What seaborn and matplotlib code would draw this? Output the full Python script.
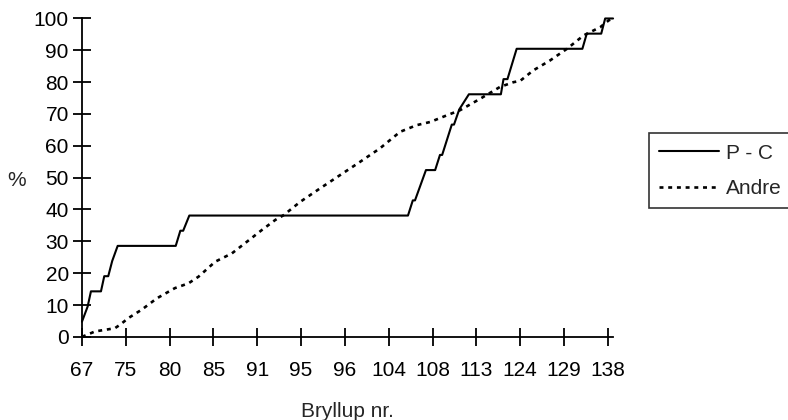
import numpy as np
import pandas as pd
import seaborn as sns
import matplotlib.pyplot as plt

# etiketter paa x-aksen (bryllup nr.)
bryllup_labels = ['67', '75', '80', '85', '91', '95', '96', '104', '108', '113', '124', '129', '138']

# P - C : kumulativ procent (position langs kategoriaksen)
pc_x = [0.0, 0.13, 0.205, 0.434, 0.509, 0.60, 0.69, 0.815, 2.14, 2.245, 2.31, 2.45,
        7.44, 7.55, 7.60, 7.85, 8.06, 8.17, 8.22, 8.44, 8.49, 8.61, 8.83, 9.56,
        9.62, 9.71, 9.92, 11.42, 11.52, 11.85, 11.94, 12.12]
pc_y = [4.76, 9.52, 14.29, 14.29, 19.05, 19.05, 23.81, 28.57, 28.57, 33.33, 33.33, 38.10,
        38.10, 42.86, 42.86, 52.38, 52.38, 57.14, 57.14, 66.67, 66.67, 71.43, 76.19, 76.19,
        80.95, 80.95, 90.48, 90.48, 95.24, 95.24, 100.0, 100.0]

# Andre
andre_x = [0.0, 0.30, 0.75, 0.87, 1.06, 1.36, 1.71, 2.12, 2.43, 2.66, 3.04, 3.42, 3.72,
           4.10, 4.41, 4.60, 4.98, 5.43, 5.89, 6.35, 6.80, 7.26, 7.64, 7.95, 8.33, 8.63,
           9.09, 9.54, 9.85, 10.0, 10.30, 10.68, 11.07, 11.45, 11.83, 12.02, 12.12]
andre_y = [0.0, 1.7, 2.7, 3.8, 5.9, 8.5, 12.1, 15.3, 16.8, 18.9, 23.6, 26.2, 29.4,
           33.5, 36.7, 38.2, 42.4, 46.6, 50.8, 55.0, 59.2, 64.4, 66.5, 67.5, 69.6, 71.2,
           74.8, 78.5, 80.0, 80.4, 83.7, 86.8, 90.5, 94.7, 97.3, 99.4, 100.0]

df = pd.concat([
    pd.DataFrame({'pos': pc_x, 'pct': pc_y, 'serie': 'P - C'}),
    pd.DataFrame({'pos': andre_x, 'pct': andre_y, 'serie': 'Andre'}),
])

sns.set_style('white')
plt.rcParams['font.family'] = ['Liberation Sans', 'DejaVu Sans']

fig = plt.figure(figsize=(7.88, 4.2), dpi=100)
ax = fig.add_axes([0.104, 0.198, 0.674, 0.758])

sns.lineplot(data=df, x='pos', y='pct', hue='serie', style='serie',
             hue_order=['P - C', 'Andre'], style_order=['P - C', 'Andre'],
             palette={'P - C': 'black', 'Andre': 'black'},
             dashes={'P - C': '', 'Andre': (1.5, 1.8)},
             estimator=None, sort=False, linewidth=1.5, legend=False, ax=ax)
ax.lines[1].set_linewidth(1.9)

ax.set_xlim(0, 12.12)
ax.set_ylim(0, 100)
ax.set_xticks(range(13))
ax.set_xticklabels(bryllup_labels)
ax.set_yticks(range(0, 101, 10))

for s in ['top', 'right']:
    ax.spines[s].set_visible(False)
for s in ['left', 'bottom']:
    ax.spines[s].set_color('black')
    ax.spines[s].set_linewidth(1.3)

ax.tick_params(bottom=True, left=True, direction='inout', length=13, width=1.3,
               labelsize=15, colors='black')
ax.tick_params(axis='x', pad=11)
ax.tick_params(axis='y', pad=3)

ax.set_xlabel('Bryllup nr.', fontsize=15, labelpad=16)
ax.set_ylabel('%', fontsize=15, rotation=0)
ax.yaxis.set_label_coords(-0.124, 0.46)

for l in ax.lines:
    l.set_clip_on(False)

leg = fig.legend(handles=ax.lines[:2], labels=['P - C', 'Andre'],
                 loc='upper left', bbox_to_anchor=(0.8236, 0.683),
                 fontsize=15, frameon=True, fancybox=False, shadow=False,
                 handlelength=2.85, handletextpad=0.35, labelspacing=0.78,
                 borderpad=0.5, borderaxespad=0)
leg.get_frame().set_edgecolor('black')
leg.get_frame().set_linewidth(1.2)

plt.savefig('out.png', dpi=100)
